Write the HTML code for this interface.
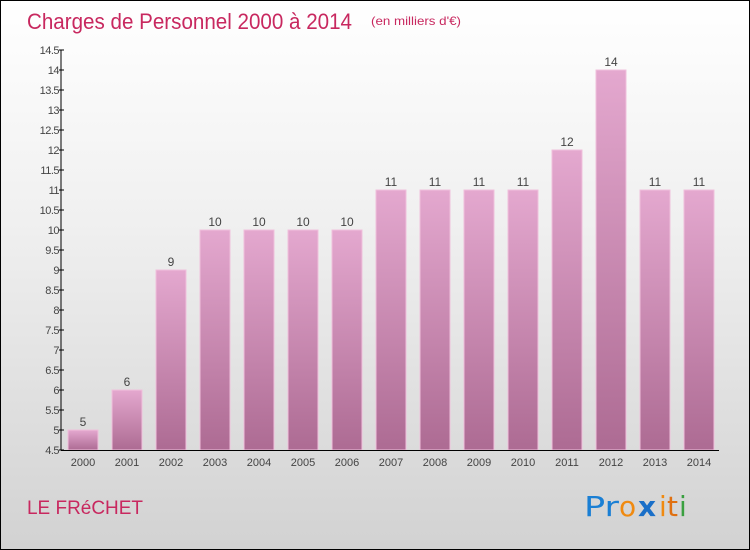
<!DOCTYPE html>
<html><head><meta charset="utf-8"><style>
body{margin:0}
#c{position:relative;width:748px;height:548px;border:1px solid #000;background:linear-gradient(#fff 0%,#f0f0f0 40%,#d2d2d2 100%);font-family:"Liberation Sans",sans-serif;overflow:hidden}
</style></head><body>
<div id="c">
<svg id="s" width="748" height="548" style="position:absolute;left:0;top:0">
<defs><linearGradient id="g" x1="0" y1="0" x2="0" y2="1"><stop offset="0" stop-color="#e4a8cf"/><stop offset="1" stop-color="#ad6b93"/></linearGradient></defs>
<text x="26" y="28" font-size="22" fill="#c8285f" textLength="325" lengthAdjust="spacingAndGlyphs">Charges de Personnel 2000 à 2014</text>
<text x="370" y="24" font-size="12" fill="#c8285f" textLength="90" lengthAdjust="spacingAndGlyphs">(en milliers d'€)</text>
<text x="26" y="513" font-size="19" fill="#c8285f" textLength="116" lengthAdjust="spacingAndGlyphs">LE FRéCHET</text>
<g font-size="28" font-family="'DejaVu Sans',sans-serif">
<text x="583" y="515" fill="#1a7fd4" textLength="35" lengthAdjust="spacingAndGlyphs">Pr</text><text x="618" y="515" fill="#f08a10">o</text><text x="637" y="515" fill="#1a6fc8" font-weight="bold">x</text><text x="658" y="515" fill="#f08a10">i</text><text x="666" y="515" fill="#e07010">t</text><text x="678" y="515" fill="#3aa040">i</text>
</g>
</svg>
</div>
<script>
const years=["2000","2001","2002","2003","2004","2005","2006","2007","2008","2009","2010","2011","2012","2013","2014"];
const values=[5,6,9,10,10,10,10,11,11,11,11,12,14,11,11];
const labels=["5","6","9","10","10","10","10","11","11","11","11","12","14","11","11"];
const ticks=[4.5,5,5.5,6,6.5,7,7.5,8,8.5,9,9.5,10,10.5,11,11.5,12,12.5,13,13.5,14,14.5];
const NS="http://www.w3.org/2000/svg",s=document.getElementById('s');
const y0=449,yMin=4.5,yMax=14.5,ppu=40,x0=60,step=44;
const Y=v=>y0-(v-yMin)*ppu, X=i=>x0+step*i+step/2;
function el(t,a){const e=document.createElementNS(NS,t);for(const k in a)e.setAttribute(k,a[k]);s.appendChild(e);return e;}
values.forEach((v,i)=>{
const r=el('rect',{x:X(i)-15,y:Y(v),width:30,height:y0-Y(v),fill:'url(#g)',stroke:'#f0c0dc','stroke-width':1});


const t=el('text',{x:X(i),y:Y(v)-4,'text-anchor':'middle','font-size':12,fill:'#444'});t.textContent=labels[i];


const xl=el('text',{x:X(i),y:y0+16,'text-anchor':'middle','font-size':11,fill:'#444'});xl.textContent=years[i];


});
const ya=el('line',{x1:x0,y1:Y(yMax),x2:x0,y2:y0,stroke:'#000'});


const xa=el('line',{x1:x0,y1:y0+0.5,x2:x0+step*15-2,y2:y0+0.5,stroke:'#000'});


ticks.forEach(v=>{
el('line',{x1:x0-2,y1:Y(v),x2:x0+3,y2:Y(v),stroke:'#000'});
const t=el('text',{x:x0-2,y:Y(v)+4,'text-anchor':'end','font-size':11,fill:'#444','letter-spacing':'-0.5'});t.textContent=String(v);


});
</script>
</body></html>
